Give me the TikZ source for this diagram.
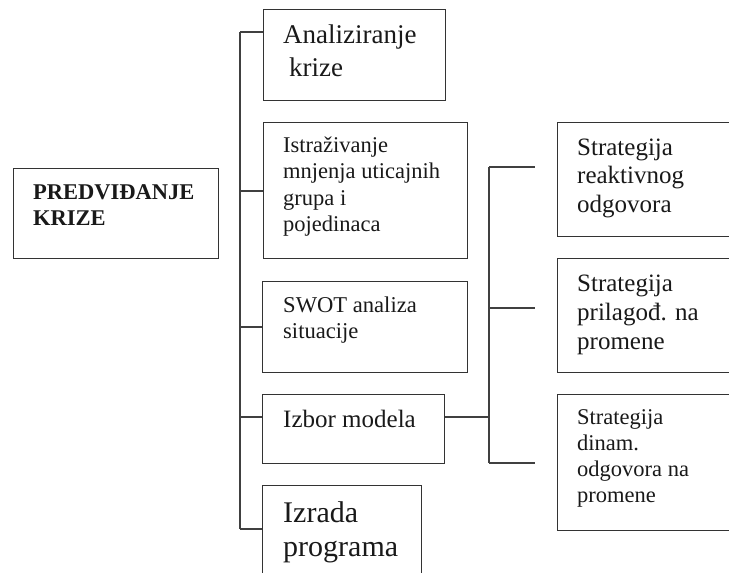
\documentclass[tikz,border=0pt]{standalone}
\usepackage{fontspec}
\setmainfont{Liberation Serif}
\begin{document}
\begin{tikzpicture}[x=1pt,y=-1pt,
  box/.style={draw=black!80, line width=1.3pt, inner sep=0pt, anchor=north west, rectangle},
  lbl/.style={anchor=base west, inner sep=0pt, text=black!90},
  wire/.style={draw=black!75, line width=1.2pt}]
\useasboundingbox (0,0) rectangle (729,573);
\clip (0,0) rectangle (729,573);
% boxes
\node[box, minimum width=205pt, minimum height=90pt] (pred) at (13,168) {};
\node[box, minimum width=182pt, minimum height=91pt] (anal) at (263,9) {};
\node[box, minimum width=204pt, minimum height=136pt] (istr) at (263,122) {};
\node[box, minimum width=205pt, minimum height=91pt] (swot) at (262,281) {};
\node[box, minimum width=182pt, minimum height=69pt] (izbor) at (262,394) {};
\node[box, minimum width=159pt, minimum height=110pt] (izrada) at (262,485) {};
\node[box, minimum width=190pt, minimum height=114pt] (s1) at (557,122) {};
\node[box, minimum width=190pt, minimum height=114pt] (s2) at (557,258) {};
\node[box, minimum width=190pt, minimum height=136pt] (s3) at (557,394) {};
% labels
\node[lbl] (tpred) at (33,199) {\fontsize{22.5}{26}\selectfont\bfseries\begin{tabular}[t]{@{}l@{}}PREDVIĐANJE\\KRIZE\end{tabular}};
\node[lbl] (tanal) at (283,43) {\fontsize{27}{33}\selectfont\begin{tabular}[t]{@{}l@{}}Analiziranje\\\hspace{6pt}krize\end{tabular}};
\node[lbl] (tistr) at (283,152) {\fontsize{22.5}{26.5}\selectfont\begin{tabular}[t]{@{}l@{}}Istraživanje\\mnjenja uticajnih\\grupa i\\pojedinaca\end{tabular}};
\node[lbl] (tswot) at (283,312) {\fontsize{22.6}{26}\selectfont\begin{tabular}[t]{@{}l@{}}SWOT analiza\\situacije\end{tabular}};
\node[lbl] (tizbor) at (283,427) {\fontsize{25}{30}\selectfont Izbor modela};
\node[lbl] (tizrada) at (283,522) {\fontsize{30}{34}\selectfont\begin{tabular}[t]{@{}l@{}}Izrada\\programa\end{tabular}};
\node[lbl] (ts1) at (577,155) {\fontsize{25}{28.5}\selectfont\begin{tabular}[t]{@{}l@{}}Strategija\\reaktivnog\\odgovora\end{tabular}};
\node[lbl] (ts2) at (577,291) {\fontsize{25}{29}\selectfont\begin{tabular}[t]{@{}l@{}}Strategija\\prilagođ. na\\promene\end{tabular}};
\node[lbl] (ts3) at (577,424) {\fontsize{22.5}{26}\selectfont\begin{tabular}[t]{@{}l@{}}Strategija\\dinam.\\odgovora na\\promene\end{tabular}};
% left spine
\coordinate (L1) at (240,32);
\coordinate (L2) at (240,191);
\coordinate (L3) at (240,327);
\coordinate (L4) at (240,417);
\coordinate (L5) at (240,529);
\draw[wire] (L1) -- (L5);
\draw[wire] (L1) -- (anal.west |- L1);
\draw[wire] (L2) -- (istr.west |- L2);
\draw[wire] (L3) -- (swot.west |- L3);
\draw[wire] (L4) -- (izbor.west |- L4);
\draw[wire] (L5) -- (izrada.west |- L5);
% right spine
\coordinate (R0) at (489,417);
\coordinate (R1) at (489,167);
\coordinate (R2) at (489,308);
\coordinate (R3) at (489,463);
\coordinate (E1) at (535,167);
\coordinate (E2) at (535,308);
\coordinate (E3) at (535,463);
\draw[wire] (izbor.east |- R0) -- (R0);
\draw[wire] (R1) -- (R3);
\draw[wire] (R1) -- (E1);
\draw[wire] (R2) -- (E2);
\draw[wire] (R3) -- (E3);
\end{tikzpicture}
\end{document}
